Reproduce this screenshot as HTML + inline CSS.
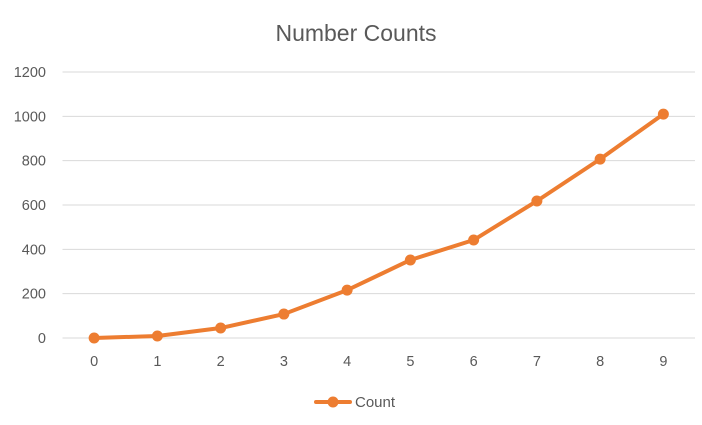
<!DOCTYPE html>
<html><head><meta charset="utf-8"><style>
body{margin:0;background:#fff;}
svg text{font-family:"Liberation Sans",sans-serif;}
</style></head><body>
<svg width="702" height="420" viewBox="0 0 702 420">
<rect width="702" height="420" fill="#fff"/>
<text x="356" y="41" text-anchor="middle" font-size="23" fill="#595959">Number Counts</text>
<g id="grid"></g><g id="ylabels"></g><g id="xlabels"></g><g id="series"></g>
<g>
<line x1="316" y1="402" x2="350" y2="402" stroke="#ED7D31" stroke-width="4" stroke-linecap="round"/>
<circle cx="333" cy="402" r="5.5" fill="#ED7D31"/>
<text x="355" y="407" font-size="15" fill="#595959">Count</text>
</g>
</svg>
<script>
const categories=[0,1,2,3,4,5,6,7,8,9];
const counts=[0,9,45,108,216,352,442,618,807,1010];
const yTicks=[0,200,400,600,800,1000,1200];
const ns="http://www.w3.org/2000/svg";
const L=62.5,R=695,T=72,B=338,yMax=1200;
const bw=(R-L)/categories.length;
const x=i=>L+bw*(i+0.5);
const y=v=>B-(v/yMax)*(B-T);
function mk(t,a,p){const e=document.createElementNS(ns,t);for(const k in a)e.setAttribute(k,a[k]);p.appendChild(e);return e;}
const grid=document.getElementById('grid'),yl=document.getElementById('ylabels'),xl=document.getElementById('xlabels'),s=document.getElementById('series');
yTicks.forEach(v=>{
 const g=mk('line',{x1:L,x2:R,y1:y(v),y2:y(v),stroke:'#D9D9D9','stroke-width':1},grid);
 
 
 const t=mk('text',{x:46,y:y(v)+5,'text-anchor':'end','font-size':14.5,fill:'#595959'},yl);
 t.textContent=v;
 
 
});
categories.forEach((c,i)=>{
 const t=mk('text',{x:x(i),y:366,'text-anchor':'middle','font-size':14.5,fill:'#595959'},xl);
 t.textContent=c;
 
 
});
const pl=mk('polyline',{points:counts.map((v,i)=>x(i)+','+y(v)).join(' '),fill:'none',stroke:'#ED7D31','stroke-width':4,'stroke-linejoin':'round','stroke-linecap':'round'},s);


counts.forEach((v,i)=>{
 const c=mk('circle',{cx:x(i),cy:y(v),r:5.5,fill:'#ED7D31'},s);
 
 
});
</script>
</body></html>
